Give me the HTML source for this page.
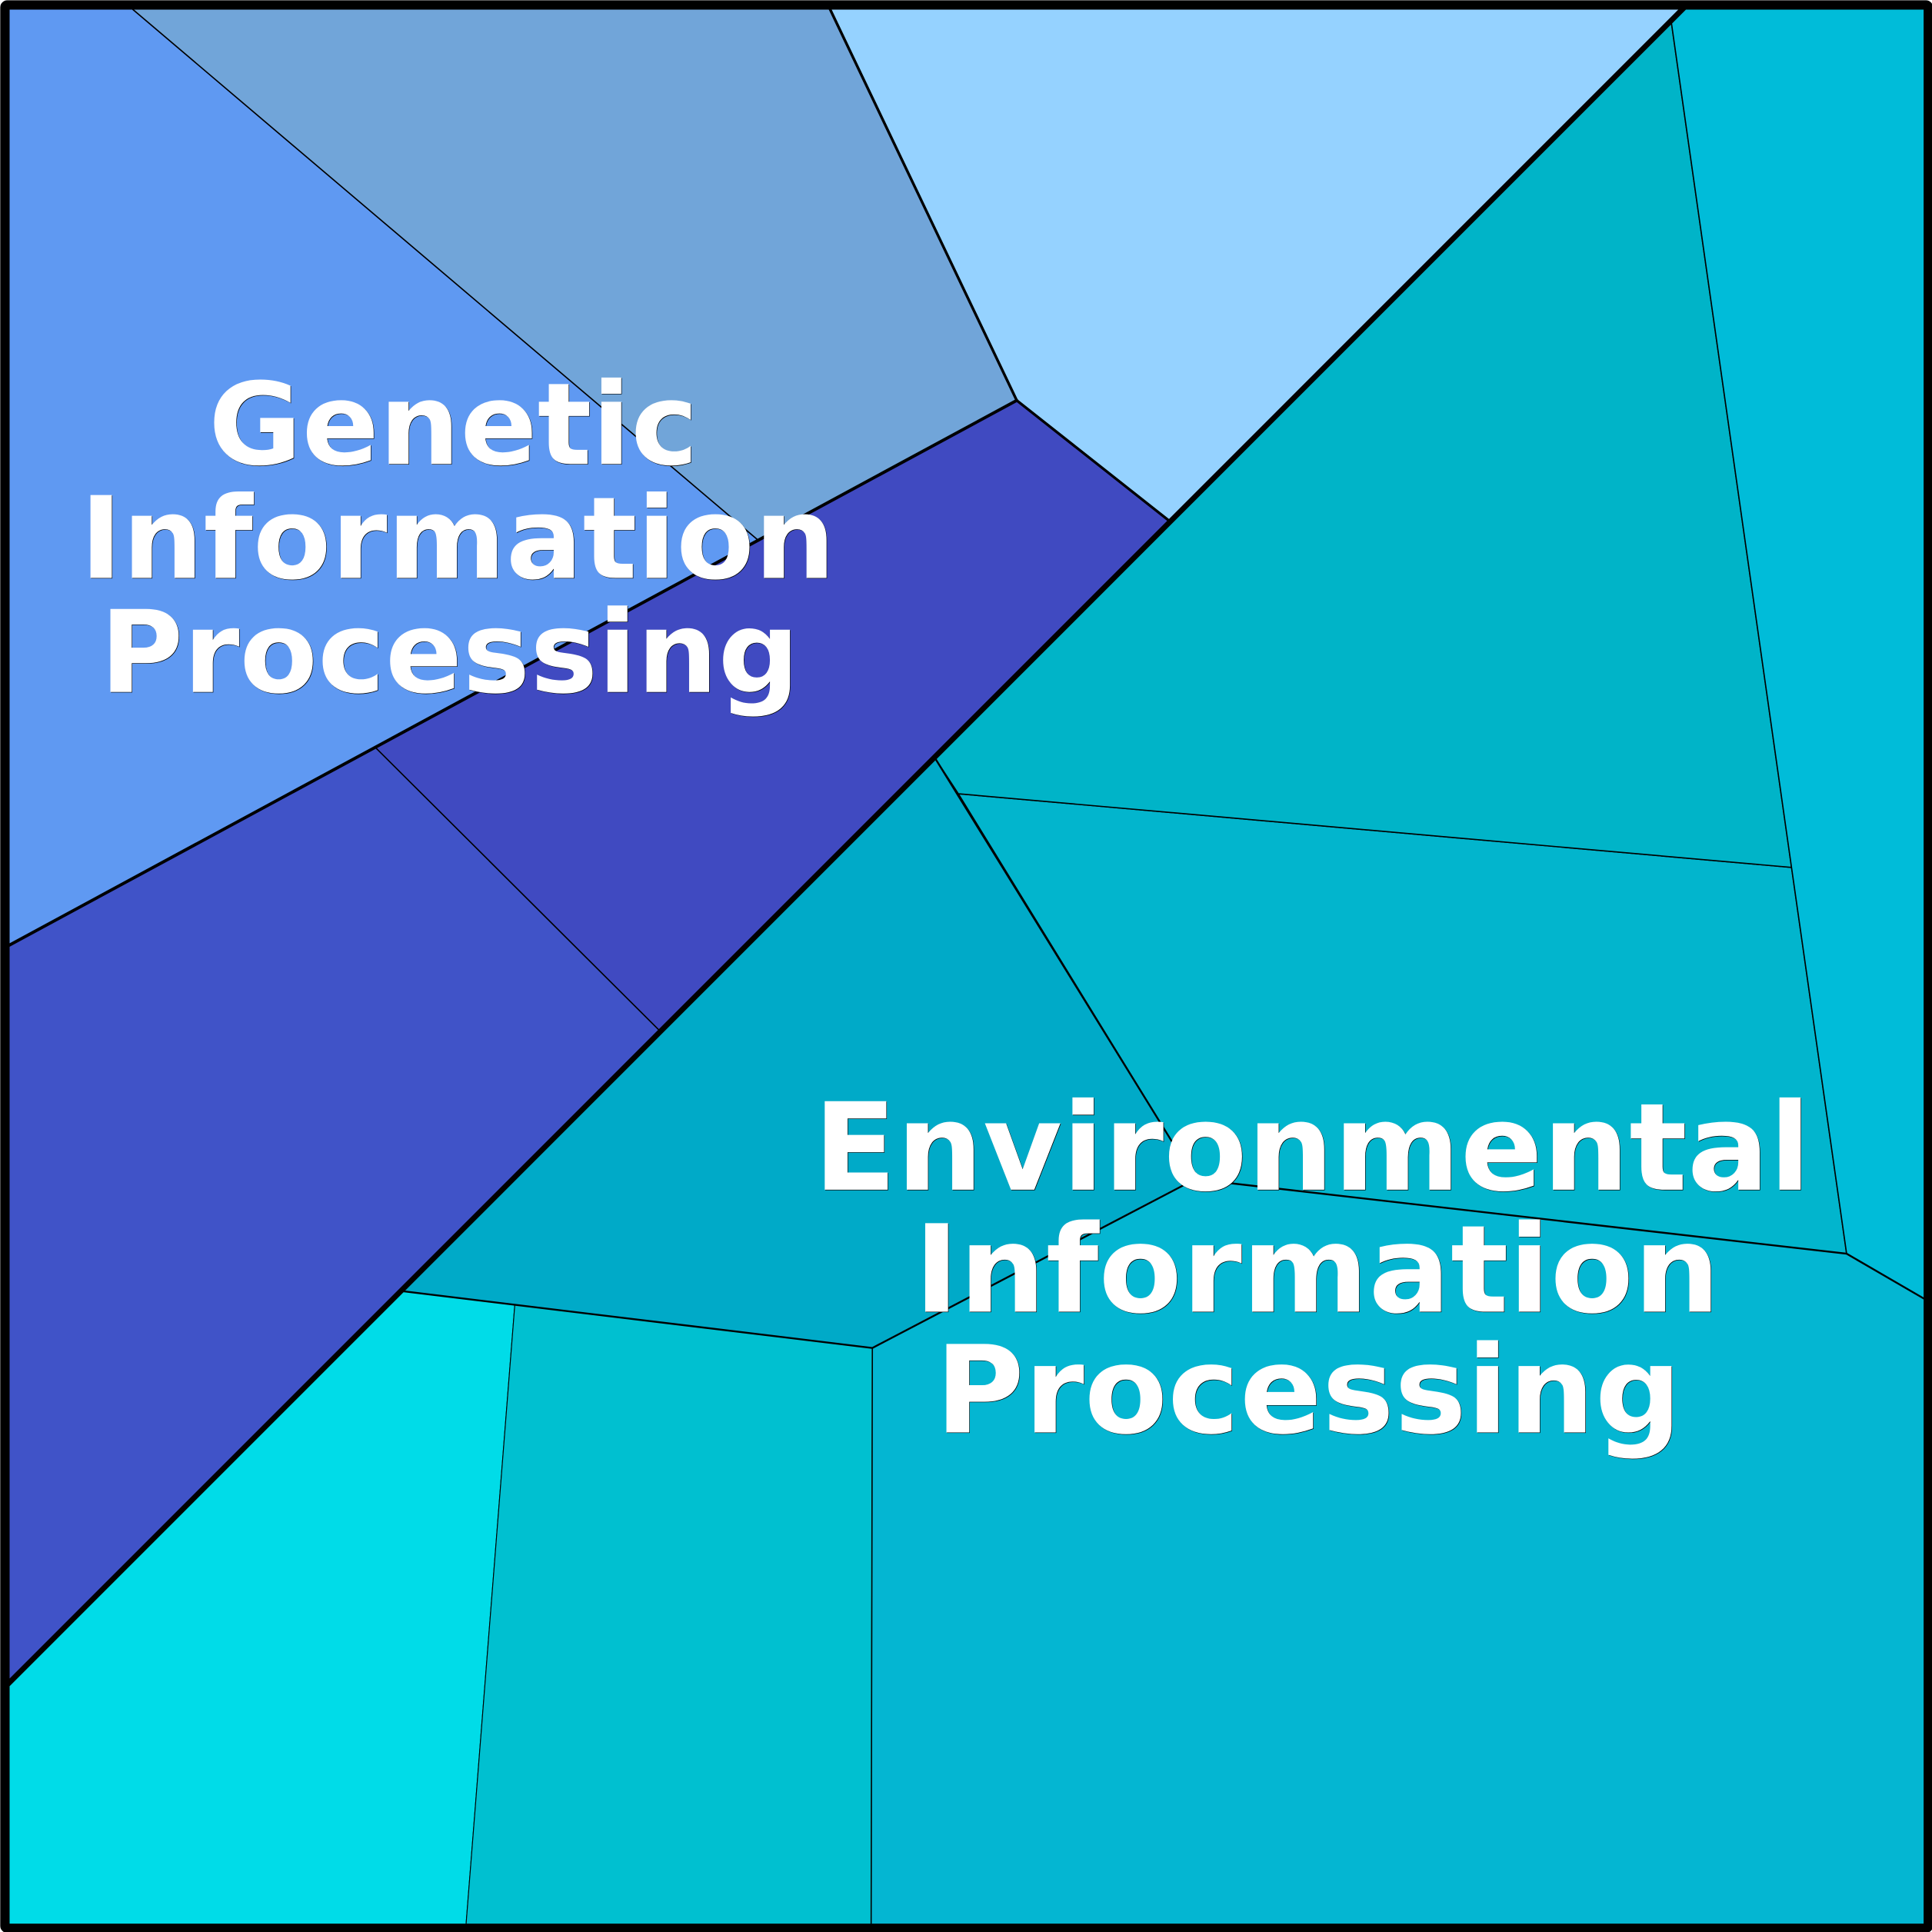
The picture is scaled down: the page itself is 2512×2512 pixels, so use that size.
<!DOCTYPE html>
<html><head><meta charset="utf-8"><style>
html,body{margin:0;padding:0;background:#fff}
svg{display:block}
text{font-family:"DejaVu Sans",sans-serif;font-weight:700;text-anchor:middle}
</style></head><body>
<svg xmlns="http://www.w3.org/2000/svg" width="2512" height="2512" viewBox="0 0 1568 1568">
<g stroke="#000" stroke-width="1" stroke-linejoin="round">
<polygon fill="#5f99f2" points="4,4 103.5,4 616,439 305,607 4,769"/>
<polygon fill="#71a5d9" points="103.5,4 672,4 825.2,325 616,439"/>
<polygon fill="#95d2ff" points="672,4 1369,4 949.8,423.4 825.2,325" stroke-width="2"/>
<polygon fill="#404ac1" points="825.2,325 949.8,423.4 536,837.2 305,607"/>
<polygon fill="#4053c8" points="4,769 305,607 536,837.2 4,1369.2"/>
<polygon fill="#00dce8" points="4,1369.2 325.5,1047.8 417.8,1059.1 378,1565 4,1565" stroke-width=".7"/>
<polygon fill="#00c0d0" points="417.8,1059.1 708,1094 707,1565 378,1565" stroke-width=".7"/>
<polygon fill="#04b6d2" points="708,1094 970,957 1498.7,1017.5 1565,1056 1565,1565 707,1565"/>
<polygon fill="#00aac8" points="325.5,1047.8 758.5,614.7 970,957 708,1094"/>
<polygon fill="#02b5cd" points="777.8,644.2 1454,704 1498.7,1017.5 970,957"/>
<polygon fill="#00b4c8" points="758.5,614.7 1356.3,17 1454,704 777.8,644.2"/>
<polygon fill="#00bcd9" points="1369,4 1565,4 1565,1056 1498.7,1017.5 1454,704 1356.3,17"/>
</g>
<g fill="none" stroke="#000" stroke-linecap="round">
<path d="M672,4L825.2,325L949.8,423.4" stroke-width="2.1"/>
<path d="M825.2,325L4,769" stroke-width="2.5"/>
<path d="M1369,4L4,1369.2" stroke-width="4.4"/>
<path d="M758.5,614.7L970,957L708,1094L325.5,1047.8" stroke-width="1.5"/>
<path d="M970,957L1498.7,1017.5L1565,1056" stroke-width="1.5"/>
</g>
<rect x="4" y="4" width="1561" height="1561" rx="2" fill="none" stroke="#000" stroke-width="7.6"/>
<g font-size="92.4" fill="#000" transform="translate(.4,.4)">
<text x="368" y="376.6">Genetic</text>
<text x="371.5" y="469.1">Information</text>
<text x="365" y="561.6">Processing</text>
</g>
<g font-size="92.4" fill="#fff">
<text x="368" y="376.6">Genetic</text>
<text x="371.5" y="469.1">Information</text>
<text x="365" y="561.6">Processing</text>
</g>
<g font-size="98.6" fill="#000" transform="translate(.4,.4)">
<text x="1065" y="965.6">Environmental</text>
<text x="1069" y="1064.6">Information</text>
<text x="1062" y="1162.6">Processing</text>
</g>
<g font-size="98.6" fill="#fff">
<text x="1065" y="965.6">Environmental</text>
<text x="1069" y="1064.6">Information</text>
<text x="1062" y="1162.6">Processing</text>
</g>
</svg>
</body></html>
